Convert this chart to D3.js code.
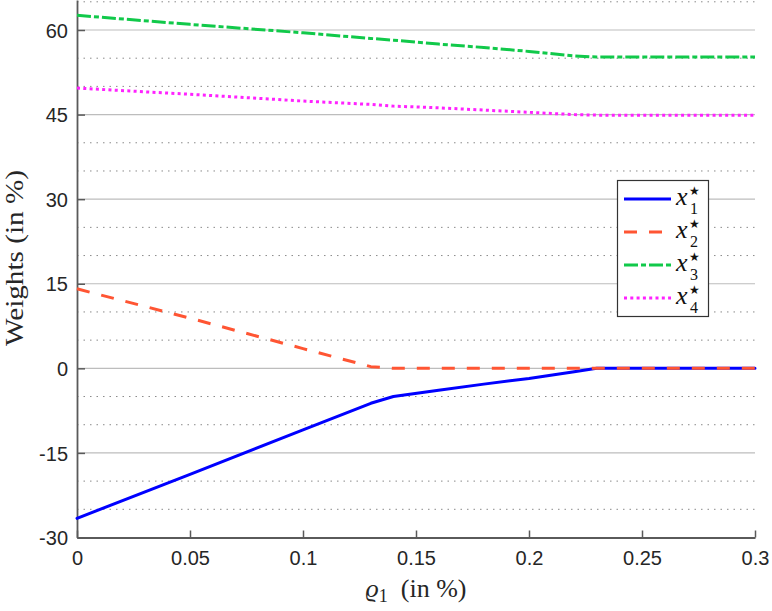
<!DOCTYPE html>
<html>
<head>
<meta charset="utf-8">
<style>
  body { margin: 0; background: #fff; }
  svg { display: block; }
</style>
</head>
<body>
<svg width="772" height="611"></svg>
<script src="https://d3js.org/d3.v7.min.js"></script>
<script>
// rho_1 values (in %)
var rho = [0, 0.05, 0.1, 0.13, 0.14, 0.16, 0.18, 0.2, 0.22, 0.23, 0.25, 0.3];
// optimal weights (in %)
var x1 = [-26.6, -18.8, -10.9, -6.2, -5.0, -3.9, -2.8, -1.8, -0.6, 0, 0, 0];
var x2 = [14.1, 8.9, 3.5, 0.3, 0, 0, 0, 0, 0, 0, 0, 0];
var x3 = [62.6, 61.0, 59.5, 58.5, 58.2, 57.5, 56.9, 56.2, 55.4, 55.2, 55.2, 55.2];
var x4 = [49.7, 48.6, 47.4, 46.8, 46.5, 46.2, 45.8, 45.4, 45.0, 44.9, 44.9, 44.9];

var xTicks = [0, 0.05, 0.1, 0.15, 0.2, 0.25, 0.3];
var yTicks = [-30, -15, 0, 15, 30, 45, 60];
var yMinor = [-25, -20, -10, -5, 5, 10, 20, 25, 35, 40, 50, 55, 65];
var seriesNames = ["1", "2", "3", "4"];

var svg = d3.select("svg"),
    plotL = 77, plotR = 755, plotT = 0, plotB = 537.5;

var x = d3.scaleLinear().domain([0, 0.3]).range([plotL, plotR]);
var y = d3.scaleLinear().domain([-30, 65.32]).range([plotB, plotT]);

// minor grid (dotted)
svg.append("g").selectAll("line")
    .data(yMinor).enter().append("line")
    .attr("x1", plotL).attr("x2", plotR)
    .attr("y1", function(d) { return y(d); })
    .attr("y2", function(d) { return y(d); })
    .attr("stroke", "#8a8a8a")
    .attr("stroke-width", 1)
    .attr("stroke-dasharray", "1.5,5");

// major grid
svg.append("g").selectAll("line")
    .data(yTicks.filter(function(d) { return d > -30; })).enter().append("line")
    .attr("x1", plotL).attr("x2", plotR)
    .attr("y1", function(d) { return y(d); })
    .attr("y2", function(d) { return y(d); })
    .attr("stroke", "#bdbdbd")
    .attr("stroke-width", 1.2);

// axes
var xAxis = svg.append("g")
    .attr("transform", "translate(0," + plotB + ")")
    .call(d3.axisBottom(x).tickValues(xTicks).tickSizeInner(-7).tickSizeOuter(0)
        .tickFormat(function(d) { return d3.format("~g")(d); }));
var yAxis = svg.append("g")
    .attr("transform", "translate(" + plotL + ",0)")
    .call(d3.axisLeft(y).tickValues(yTicks).tickSizeInner(-8).tickSizeOuter(0)
        .tickFormat(function(d) { return String(d).replace("\u2212", "-"); }));

[xAxis, yAxis].forEach(function(a) {
  a.select(".domain").attr("stroke", "#5a5a5a").attr("stroke-width", 1.8);
  a.selectAll(".tick line").attr("stroke", "#5a5a5a").attr("stroke-width", 1.5);
  a.selectAll(".tick text")
      .attr("fill", "#262626")
      .style("font-family", "'Liberation Sans', Arial, sans-serif")
      .style("font-size", "20px");
});
xAxis.selectAll(".tick text").attr("y", 13).attr("dy", "0.71em");
yAxis.selectAll(".tick text").attr("x", -9).attr("dy", "0.36em");

// series
var series = [
  {vals: x1, color: "#0000ff", dash: null, cap: "round"},
  {vals: x2, color: "#ff5533", dash: "13,12", cap: "butt"},
  {vals: x3, color: "#11c94a", dash: "14,3,5,3", cap: "butt"},
  {vals: x4, color: "#ff22ff", dash: "3,3.3", cap: "butt"}
];

var line = d3.line()
    .x(function(d) { return x(d[0]); })
    .y(function(d) { return y(d[1]); });

series.forEach(function(s) {
  svg.append("path")
      .datum(rho.map(function(r, i) { return [r, s.vals[i]]; }))
      .attr("fill", "none")
      .attr("stroke", s.color)
      .attr("stroke-width", 3)
      .attr("stroke-linejoin", "round")
      .attr("stroke-linecap", s.cap)
      .attr("stroke-dasharray", s.dash)
      .attr("d", line);
});

// legend
var lg = svg.append("g");
lg.append("rect")
    .attr("x", 617.5).attr("y", 180.5)
    .attr("width", 91).attr("height", 136)
    .attr("fill", "#fff")
    .attr("stroke", "#333")
    .attr("stroke-width", 1.2);

series.forEach(function(s, i) {
  var cy = 199 + i * 33;
  lg.append("line")
      .attr("x1", 624).attr("x2", 671)
      .attr("y1", cy).attr("y2", cy)
      .attr("stroke", s.color)
      .attr("stroke-width", 3)
      .attr("stroke-dasharray", s.dash);
  lg.append("text")
      .attr("x", 676).attr("y", cy + 6)
      .attr("fill", "#111")
      .style("font-family", "'Liberation Serif', 'DejaVu Serif', serif")
      .style("font-style", "italic")
      .style("font-size", "26px")
      .text("x");
  lg.append("text")
      .attr("x", 689).attr("y", cy - 4)
      .attr("fill", "#111")
      .style("font-family", "'DejaVu Sans', sans-serif")
      .style("font-size", "12px")
      .text("\u2605");
  lg.append("text")
      .attr("x", 690).attr("y", cy + 15)
      .attr("fill", "#111")
      .style("font-family", "'Liberation Serif', 'DejaVu Serif', serif")
      .style("font-size", "16px")
      .text(seriesNames[i]);
});

// axis labels
svg.append("text")
    .attr("transform", "translate(23,258) rotate(-90)")
    .attr("text-anchor", "middle")
    .attr("fill", "#262626")
    .attr("textLength", 176)
    .attr("lengthAdjust", "spacingAndGlyphs")
    .style("font-family", "'Liberation Serif', 'DejaVu Serif', serif")
    .style("font-size", "26px")
    .text("Weights (in %)");

var xl = svg.append("text")
    .attr("x", 416).attr("y", 597)
    .attr("text-anchor", "middle")
    .attr("fill", "#262626")
    .style("font-family", "'Liberation Serif', 'DejaVu Serif', serif")
    .style("font-size", "26px");
xl.append("tspan").style("font-style", "italic").text("\u03F1");
xl.append("tspan").attr("dy", 5).style("font-size", "18px").text("1");
xl.append("tspan").attr("dy", -5).text("\u2002(in %)");
</script>
</body>
</html>
